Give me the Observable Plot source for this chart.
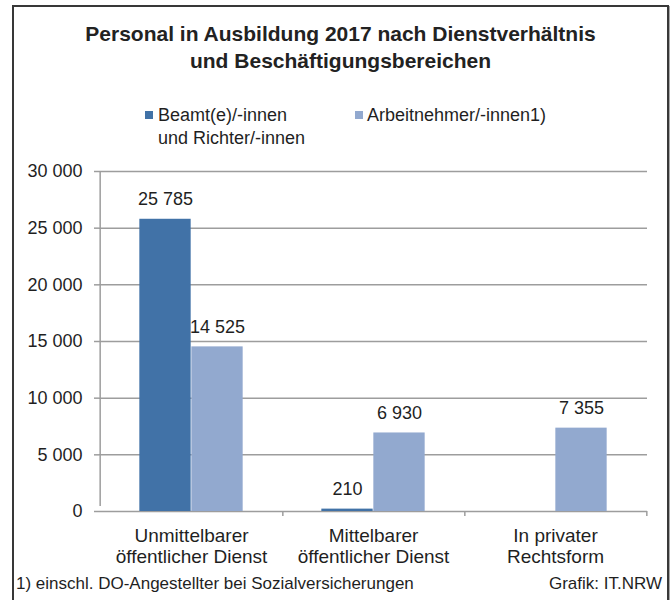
<!DOCTYPE html>
<html><head><meta charset="utf-8">
<script src="https://cdn.jsdelivr.net/npm/d3@7"></script>
<script src="https://cdn.jsdelivr.net/npm/@observablehq/plot@0.6"></script>
<style>
body{margin:0;background:#fff;}
#wrap{position:relative;width:671px;height:600px;overflow:hidden;background:#fff;font-family:"Liberation Sans",Arial,sans-serif;color:#1f1f1f;}
#frame{position:absolute;left:12px;top:5px;width:653px;height:640px;border:2px solid #383838;box-shadow:1px 1px 0 #a8a8a8;}
#title{position:absolute;left:14px;width:653px;top:19.75px;text-align:center;font-weight:bold;font-size:21px;line-height:27px;color:#222;}
.leg{position:absolute;top:104px;font-size:18px;line-height:23px;white-space:nowrap;}
.sw{position:absolute;width:8px;height:8px;top:7px;left:0;}
.lt{position:absolute;top:0;}
.foot{position:absolute;top:574px;font-size:17px;line-height:20px;white-space:nowrap;}
#chart{position:absolute;left:0;top:150px;}
</style></head>
<body>
<div id="wrap">
  <div id="frame"></div>
  <div id="title">Personal in Ausbildung 2017 nach Dienstverhältnis<br>und Beschäftigungsbereichen</div>
  <div class="leg" id="leg1" style="left:145px;"><div class="sw" id="sw1"></div><div class="lt" style="left:13px;">Beamt(e)/-innen<br>und Richter/-innen</div></div>
  <div class="leg" id="leg2" style="left:355px;"><div class="sw" id="sw2"></div><div class="lt" style="left:12px;">Arbeitnehmer/-innen1)</div></div>
  <div class="foot" style="left:16px;">1) einschl. DO-Angestellter bei Sozialversicherungen</div>
  <div class="foot" style="right:9px;">Grafik: IT.NRW</div>
  <div id="chart"></div>
</div>
<script>
// Data
const categories = ["Unmittelbarer\nöffentlicher Dienst", "Mittelbarer\nöffentlicher Dienst", "In privater\nRechtsform"];
const seriesNames = ["Beamt(e)/-innen und Richter/-innen", "Arbeitnehmer/-innen1)"];
const beamte = [25785, 210, null];
const arbeitnehmer = [14525, 6930, 7355];
const yTicks = [0, 5000, 10000, 15000, 20000, 25000, 30000];
const colors = ["#4172a7", "#92a9cf"];

document.getElementById("sw1").style.background = colors[0];
document.getElementById("sw2").style.background = colors[1];

const loc = d3.formatLocale({decimal: ",", thousands: " ", grouping: [3], currency: ["", "€"]});
const fmt = loc.format(",d");

const dataB = categories.map((c, i) => ({cat: c, value: beamte[i]})).filter(d => d.value != null);
const dataA = categories.map((c, i) => ({cat: c, value: arbeitnehmer[i]}));

const W = 671, H = 430, mL = 99, mR = 24, mT = 21, mB = 69;
const bw = (W - mL - mR) / categories.length;
const barW = 52;
const outer = (bw - 2 * barW) / 2;
const grid = "#9d9d9d";

const plot = Plot.plot({
  width: W, height: H,
  marginLeft: mL, marginRight: mR, marginTop: mT, marginBottom: mB,
  style: {fontFamily: '"Liberation Sans", Arial, sans-serif', fontSize: "18px", color: "#1f1f1f", background: "transparent", overflow: "visible"},
  x: {domain: categories, padding: 0, axis: null},
  y: {domain: [0, 30000], axis: null},
  marks: [
    Plot.gridY(yTicks, {stroke: grid, strokeOpacity: 1, strokeWidth: 1.5}),
    Plot.axisY(yTicks, {tickFormat: fmt, tickSize: 5, tickPadding: 12, stroke: grid, strokeWidth: 1.5, fontSize: 18, label: null}),
    Plot.barY(dataB, {x: "cat", y: "value", fill: colors[0], insetLeft: outer, insetRight: outer + barW}),
    Plot.barY(dataA, {x: "cat", y: "value", fill: colors[1], insetLeft: outer + barW, insetRight: outer}),
    Plot.ruleX([categories[0]], {x: d => d, dx: -bw / 2, y1: 0, y2: 30000, insetTop: -5, stroke: grid, strokeWidth: 1.5}),
    Plot.ruleX(categories, {x: d => d, dx: bw / 2, y1: 0, y2: 0, insetTop: 5, stroke: grid, strokeWidth: 1.5}),
    Plot.text(dataB, {x: "cat", y: "value", text: d => fmt(d.value), dx: -barW / 2, dy: -20, fontSize: 18, fill: "#1f1f1f"}),
    Plot.text(dataA, {x: "cat", y: "value", text: d => fmt(d.value), dx: barW / 2, dy: -20, fontSize: 18, fill: "#1f1f1f"}),
    Plot.text(categories, {x: d => d, frameAnchor: "bottom", text: d => d, lineAnchor: "top", dy: 16, fontSize: 19, lineHeight: 1.105, fill: "#1f1f1f"})
  ]
});
document.getElementById("chart").appendChild(plot);
</script>
</body></html>
